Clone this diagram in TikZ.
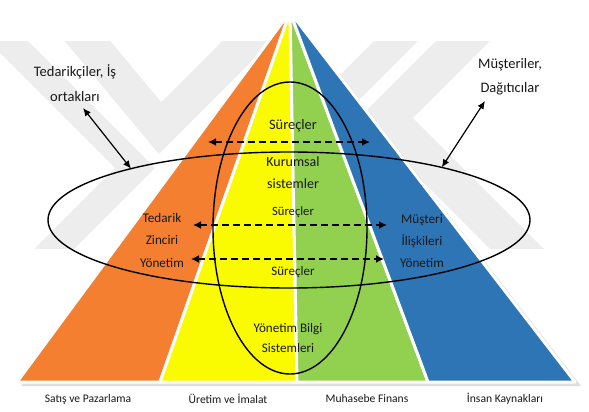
\documentclass[tikz,border=0pt]{standalone}
\usepackage{fontspec}
\setmainfont{Carlito}
\usetikzlibrary{arrows.meta,shapes.geometric}
\definecolor{cOr}{RGB}{244,127,48}
\definecolor{cYe}{RGB}{250,250,0}
\definecolor{cGr}{RGB}{146,208,80}
\definecolor{cBl}{RGB}{46,117,182}
\definecolor{wm}{RGB}{237,237,237}
\definecolor{txt}{RGB}{25,25,25}
\tikzset{
  piece/.style={draw=white, line width=3pt, line join=round},
  ring/.style={draw=black, line width=1.4pt, ellipse, inner sep=0pt, outer sep=0pt},
  lbl/.style={text=txt, inner sep=0pt, align=center},
  dasharr/.style={line width=2pt, dash pattern=on 7pt off 4pt,
     {Latex[length=8pt,width=8pt]}-{Latex[length=8pt,width=8pt]}},
  solarr/.style={line width=1.2pt,
     {Latex[length=8pt,width=7pt]}-{Latex[length=8pt,width=7pt]}},
}
\begin{document}
\begin{tikzpicture}[x=1pt,y=-1pt]
\useasboundingbox (0,0) rectangle (589,412);
\fill[white] (0,0) rectangle (589,412);
% watermark
\begin{scope}
\clip (0,42) rectangle (589,248);
\draw[wm, line width=28pt] (-30,3) -- (135,168) -- (40,263);
\draw[wm, line width=35pt] (70,20) -- (160,128) -- (262,26);
\draw[wm, line width=31pt] (417,20) -- (300,137);
\draw[wm, line width=38pt] (484,20) -- (386,118) -- (540,272);
\end{scope}
% shadow
\fill[black, opacity=0.13] (294,15) -- (21,386) -- (581,386) -- cycle;
% pyramid pieces
\filldraw[piece, fill=cOr] (290,12) -- (17,382) -- (160,382) -- cycle;
\filldraw[piece, fill=cYe] (290,12) -- (160,382) -- (297,382) -- cycle;
\filldraw[piece, fill=cGr] (290,12) -- (297,382) -- (428,382) -- cycle;
\filldraw[piece, fill=cBl] (290,12) -- (428,382) -- (575,382) -- cycle;
% ellipses
\node[ring, minimum width=482pt, minimum height=136pt] (hell) at (289,220) {};
\node[ring, minimum width=154pt, minimum height=292pt] (vell) at (290,228) {};
% labels
\node[lbl, font=\fontsize{14.5}{25}\selectfont] (sup) at (75,83) {Tedarikçiler, İş\\ortakları};
\node[lbl, font=\fontsize{14.5}{24}\selectfont] (cus) at (510,77) {Müşteriler,\\Dağıtıcılar};
\node[lbl, font=\fontsize{14.4}{17}\selectfont] (p1) at (293,126) {Süreçler};
\node[lbl, font=\fontsize{14}{22}\selectfont] (ks) at (293,173) {Kurumsal\\sistemler};
\node[lbl, font=\fontsize{12.6}{15}\selectfont] (p2) at (293,212) {Süreçler};
\node[lbl, font=\fontsize{13}{15}\selectfont] (p3) at (293,272) {Süreçler};
\node[lbl, font=\fontsize{13.1}{20}\selectfont] (ybs) at (288,338) {Yönetim Bilgi\\Sistemleri};
\node[lbl, font=\fontsize{13.2}{22.5}\selectfont] (tzy) at (162,240) {Tedarik\\Zinciri\\Yönetim};
\node[lbl, font=\fontsize{13.2}{22}\selectfont] (miy) at (422,241) {Müşteri\\İlişkileri\\Yönetim};
\node[lbl, font=\fontsize{11.6}{14}\selectfont] (b1) at (88,399) {Satış ve Pazarlama};
\node[lbl, font=\fontsize{11.6}{14}\selectfont] (b2) at (228,399) {Üretim ve İmalat};
\node[lbl, font=\fontsize{11.6}{14}\selectfont] (b3) at (367,399) {Muhasebe Finans};
\node[lbl, font=\fontsize{11.6}{14}\selectfont] (b4) at (505,399) {İnsan Kaynakları};
% arrow end points
\coordinate (supA) at (83,108);
\coordinate (cusA) at (485,101);
\coordinate (d1l) at (208,142);
\coordinate (d1r) at (370,142);
\coordinate (d2l) at (193,225);
\coordinate (d2r) at (387,225);
\coordinate (d3l) at (191,259);
\coordinate (d3r) at (384,259);
% connectors
\draw[solarr] (supA) -- (hell.162);
\draw[solarr] (cusA) -- (hell.19);
\draw[dasharr] (d1l) -- (d1r);
\draw[dasharr] (d2l) -- (d2r);
\draw[dasharr] (d3l) -- (d3r);
\end{tikzpicture}
\end{document}
